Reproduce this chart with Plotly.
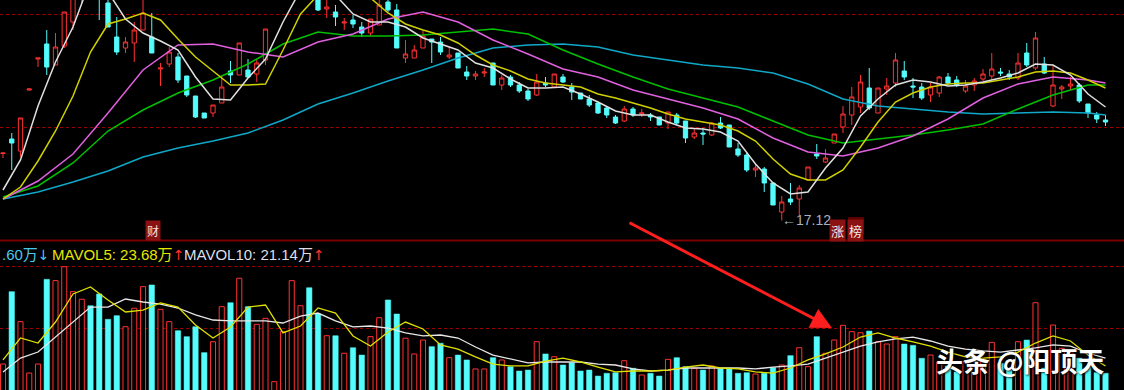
import plotly.graph_objects as go

# ---------------- data ----------------
idx = list(range(127))

open_ = [19.80, 20.38, 19.90, 22.34, 23.58, 24.18, 23.34, 24.10, 25.06, 26.14,
         26.94, 26.74, 25.82, 24.46, 24.02, 24.22, 24.74, 24.46, 23.18, 23.38,
         23.66, 22.90, 22.10, 21.42, 21.42, 21.82, 23.10, 22.94, 23.14, 22.98,
         23.54, 26.02, 26.26, 27.54, 28.14, 28.34, 26.06, 25.58, 25.46, 25.02,
         25.14, 24.86, 24.62, 24.94, 25.86, 25.54, 23.62, 23.62, 24.02, 24.38,
         24.26, 23.66, 23.82, 23.06, 22.90, 23.02, 23.42, 22.54, 22.86, 22.54,
         22.30, 22.14, 22.62, 22.46, 22.86, 22.46, 22.22, 21.98, 21.82, 21.62,
         21.26, 21.10, 21.58, 21.38, 21.34, 21.26, 21.02, 21.34, 21.10, 20.46,
         20.62, 20.54, 21.02, 20.94, 19.98, 19.74, 19.14, 19.18, 18.62, 17.46,
         17.98, 17.98, 18.74, 19.78, 19.46, 20.22, 20.86, 21.34, 21.66, 22.42,
         21.42, 22.38, 22.62, 23.10, 22.50, 22.46, 22.14, 22.22, 22.86, 22.74,
         22.30, 22.54, 22.78, 22.90, 23.06, 22.98, 22.82, 23.82, 23.22, 23.38,
         21.70, 22.38, 22.50, 22.54, 21.78, 21.34, 21.14]

high = [19.82, 20.62, 21.22, 22.40, 23.62, 24.74, 24.62, 25.46, 26.26, 27.14,
        27.54, 27.34, 26.14, 25.26, 24.46, 25.06, 26.06, 25.42, 23.42, 24.06,
        23.82, 22.90, 22.10, 21.42, 21.74, 22.90, 23.50, 24.22, 23.58, 23.58,
        24.78, 26.26, 27.94, 28.74, 28.94, 28.74, 26.34, 25.94, 25.74, 25.22,
        25.34, 25.06, 25.18, 25.94, 26.06, 25.78, 24.34, 24.14, 24.70, 24.38,
        24.46, 24.06, 23.82, 23.30, 23.10, 23.22, 23.42, 22.94, 22.94, 22.66,
        22.38, 22.98, 22.86, 22.98, 22.98, 22.62, 22.22, 22.14, 21.82, 21.66,
        21.34, 21.70, 21.66, 21.58, 21.42, 21.26, 21.46, 21.42, 21.10, 20.82,
        20.82, 21.06, 21.26, 20.94, 20.22, 19.82, 19.42, 19.26, 18.62, 18.10,
        18.62, 18.54, 19.26, 20.18, 19.98, 20.58, 21.70, 22.46, 22.94, 23.22,
        22.42, 22.82, 23.82, 23.50, 22.82, 22.62, 22.62, 22.90, 23.02, 22.90,
        22.74, 22.82, 23.18, 23.82, 23.22, 23.14, 23.82, 24.22, 24.66, 23.66,
        23.34, 22.54, 22.86, 22.62, 21.78, 21.46, 21.34]

low = [19.62, 19.14, 19.66, 22.32, 23.26, 22.94, 23.34, 24.02, 24.74, 25.82,
       26.26, 25.14, 24.86, 23.74, 23.82, 23.46, 24.74, 23.82, 22.50, 23.26,
       22.62, 22.06, 21.22, 21.22, 21.26, 21.82, 22.62, 22.94, 22.82, 22.66,
       23.34, 25.98, 26.18, 27.14, 27.54, 26.26, 25.50, 25.22, 24.90, 24.74,
       24.82, 24.46, 24.50, 24.94, 25.46, 24.02, 23.42, 23.62, 24.02, 23.42,
       23.74, 23.58, 23.22, 22.74, 22.74, 22.86, 22.54, 22.34, 22.46, 22.22,
       21.90, 22.10, 22.46, 22.46, 22.62, 21.94, 21.98, 21.66, 21.38, 21.22,
       20.98, 21.06, 21.26, 21.26, 21.10, 20.94, 20.78, 20.94, 20.22, 20.38,
       20.14, 20.50, 20.78, 20.06, 19.66, 19.06, 18.86, 18.26, 17.74, 17.12,
       17.74, 17.34, 18.74, 19.58, 19.42, 20.22, 20.62, 20.94, 21.42, 21.54,
       21.42, 22.14, 22.46, 22.74, 22.02, 21.94, 21.86, 22.06, 22.54, 22.46,
       22.22, 22.30, 22.70, 22.74, 22.90, 22.74, 22.74, 23.26, 23.14, 22.98,
       21.66, 21.98, 22.34, 21.82, 21.22, 21.02, 20.90]

close = [19.82, 20.22, 21.22, 22.38, 23.62, 23.26, 24.06, 25.46, 26.14, 26.82,
         26.42, 26.06, 24.86, 23.86, 24.26, 24.74, 25.42, 23.82, 23.22, 23.86,
         22.74, 22.14, 21.26, 21.22, 21.74, 22.46, 22.94, 24.22, 22.86, 23.42,
         24.78, 26.14, 27.74, 28.34, 28.54, 26.34, 25.54, 25.66, 25.26, 25.06,
         24.98, 24.62, 25.18, 25.74, 25.54, 24.02, 23.78, 23.94, 24.50, 24.26,
         23.86, 23.74, 23.22, 22.90, 22.98, 23.06, 22.54, 22.82, 22.54, 22.30,
         21.98, 22.66, 22.54, 22.98, 22.66, 22.26, 21.98, 21.74, 21.42, 21.34,
         21.02, 21.58, 21.34, 21.42, 21.26, 20.94, 21.46, 21.02, 20.42, 20.62,
         20.58, 21.02, 20.82, 20.06, 19.74, 19.14, 19.22, 18.62, 17.74, 17.86,
         17.86, 18.42, 19.26, 19.70, 19.62, 20.58, 21.38, 22.06, 22.66, 21.62,
         22.42, 22.50, 23.54, 22.86, 22.46, 22.02, 22.46, 22.86, 22.62, 22.54,
         22.50, 22.70, 22.98, 23.18, 23.02, 22.86, 23.42, 23.34, 24.42, 23.02,
         22.54, 22.46, 22.58, 21.90, 21.42, 21.18, 21.06]

# volume, in 万 shares
volume = [23.3, 83.6, 58.6, 15.8, 23.3, 93.9, 92.8, 104.4, 83.6, 77.3,
          71.9, 81.7, 60.6, 63.6, 54.4, 69.8, 87.8, 89.2, 68.9, 58.6,
          51.1, 46.1, 54.4, 32.8, 41.9, 71.1, 74.4, 94.8, 71.1, 56.4,
          61.4, 8.6, 50.3, 92.8, 71.9, 86.9, 65.0, 46.9, 46.9, 32.3,
          36.9, 30.8, 46.1, 61.9, 76.7, 65.0, 44.8, 31.7, 43.3, 37.8,
          40.6, 28.6, 30.8, 26.7, 19.2, 19.2, 28.6, 26.7, 21.1, 17.5,
          18.3, 41.9, 31.7, 29.4, 22.5, 24.4, 17.5, 18.3, 13.3, 15.6,
          16.1, 26.1, 19.8, 14.2, 15.6, 13.3, 27.2, 28.6, 21.1, 19.8,
          18.3, 21.7, 19.8, 19.8, 15.6, 16.1, 15.0, 15.6, 20.3, 22.5,
          30.3, 36.9, 21.1, 46.1, 32.3, 43.3, 55.6, 50.3, 49.4, 50.8,
          41.9, 40.0, 46.1, 40.0, 38.9, 28.1, 30.8, 25.0, 21.7, 16.7,
          25.3, 21.1, 26.7, 41.4, 23.9, 18.3, 41.9, 43.3, 74.4, 19.8,
          55.8, 36.4, 33.6, 28.1, 20.6, 16.1, 15.6]

# moving averages
ma_idx2 = list(range(0, 127, 2))            # every 2nd session
ma_idx4 = list(range(0, 125, 4)) + [126]    # every 4th session

ma5 = [18.34, 19.54, 21.70, 23.46, 24.86, 26.74, 26.26, 25.18, 24.62, 24.30,
       23.94, 22.86, 21.98, 21.94, 22.82, 23.58, 25.06, 26.34, 27.14, 26.14,
       25.38, 25.06, 25.06, 24.86, 24.42, 24.18, 23.94, 23.42, 23.22, 22.78,
       22.42, 22.42, 22.46, 22.18, 21.86, 21.50, 21.34, 21.34, 21.06, 20.82,
       20.78, 20.66, 20.30, 19.38, 18.62, 18.18, 18.26, 19.22, 20.02, 21.30,
       21.98, 22.54, 22.74, 22.66, 22.50, 22.54, 22.66, 22.82, 23.02, 23.38,
       23.34, 22.94, 22.18, 21.66]

ma10 = [17.98, 18.46, 19.50, 20.70, 22.10, 23.86, 24.98, 25.18, 25.42, 25.14,
        24.38, 23.66, 23.10, 22.54, 22.54, 22.58, 23.94, 25.38, 26.14, 26.54,
        26.42, 26.02, 25.42, 24.98, 24.74, 24.54, 24.22, 23.74, 23.34, 23.10,
        22.78, 22.62, 22.54, 22.46, 22.18, 22.02, 21.82, 21.62, 21.38, 21.18,
        21.06, 20.94, 20.70, 20.30, 19.58, 18.98, 18.74, 18.74, 19.14, 20.06,
        21.06, 21.86, 22.22, 22.46, 22.58, 22.62, 22.62, 22.74, 22.86, 23.06,
        23.10, 23.02, 22.74, 22.42]

ma20 = [17.98, 18.70, 19.78, 21.42, 23.14, 24.14, 24.18, 23.86, 23.66, 24.26,
        24.58, 25.18, 25.46, 25.06, 24.34, 23.78, 23.18, 22.86, 22.34, 21.98,
        21.62, 21.18, 20.42, 19.86, 19.70, 20.02, 20.50, 21.18, 22.02, 22.58,
        22.86, 22.74, 22.62]

ma30 = [18.06, 18.50, 19.42, 20.70, 21.54, 22.22, 22.74, 23.38, 24.18, 24.66,
        24.50, 24.50, 24.54, 24.66, 24.78, 24.58, 23.94, 23.38, 22.86, 22.38,
        22.02, 21.66, 21.10, 20.54, 20.22, 20.38, 20.54, 20.74, 20.98, 21.58,
        22.14, 22.54, 22.54]

ma60 = [17.98, 18.26, 18.66, 19.10, 19.66, 20.02, 20.30, 20.62, 21.14, 21.78,
        22.22, 22.70, 23.14, 23.62, 24.02, 24.14, 24.18, 24.06, 23.74, 23.54,
        23.34, 23.22, 23.02, 22.58, 21.98, 21.70, 21.58, 21.46, 21.38, 21.42,
        21.46, 21.42, 21.34]

mavol5 = [26.7, 45.0, 40.8, 58.3, 81.7, 87.5, 76.7, 66.7, 68.3, 74.2,
          70.8, 55.8, 45.0, 54.2, 70.8, 72.5, 49.2, 55.0, 70.0, 65.8,
          46.7, 38.3, 50.0, 58.3, 52.5, 39.2, 35.8, 29.2, 23.3, 21.7,
          21.7, 25.8, 28.3, 25.0, 20.8, 16.7, 17.5, 17.5, 18.3, 20.8,
          22.5, 20.0, 19.2, 16.7, 15.8, 20.0, 26.7, 31.7, 37.5, 45.8,
          49.2, 45.0, 41.7, 38.3, 33.3, 29.2, 28.3, 29.2, 33.3, 40.8,
          46.7, 42.5, 30.8, 21.7]

mavol10 = [16.7, 28.3, 33.3, 45.8, 58.3, 70.8, 70.8, 77.5, 75.0, 73.3,
           70.0, 64.2, 60.0, 59.2, 59.2, 59.2, 57.5, 63.3, 65.8, 59.2,
           54.2, 55.0, 53.3, 49.2, 46.7, 47.5, 45.0, 37.5, 30.8, 27.5,
           24.2, 25.0, 25.0, 25.0, 23.3, 22.5, 19.2, 17.5, 18.3, 20.0,
           20.0, 20.0, 20.0, 19.2, 20.8, 21.7, 23.3, 28.3, 33.3, 38.3,
           41.7, 44.2, 45.8, 42.5, 38.3, 35.8, 34.2, 33.3, 35.0, 36.7,
           39.2, 38.3, 32.5, 28.3]

low_label = "17.12"
vol_text = ".60万"
mavol5_text = "MAVOL5: 23.68万"
mavol10_text = "MAVOL10: 21.14万"

# ---------------- styling ----------------
W, H = 1124, 390
RED = "#ff3232"
CYAN = "#54fcfc"
GRID = "#9a0000"
BG = "#000000"

def px(xp):
    return xp / W

def py(yp):
    return 1 - yp / H

fig = go.Figure()

fig.add_trace(go.Candlestick(
    x=idx, open=open_, high=high, low=low, close=close,
    increasing=dict(line=dict(color=RED, width=1), fillcolor=BG),
    decreasing=dict(line=dict(color=CYAN, width=1), fillcolor=CYAN),
    whiskerwidth=0, hoverinfo="skip", xaxis="x", yaxis="y", name="K"))

for vals, xs, col in [(ma60, ma_idx4, "#0fa8c8"), (ma30, ma_idx4, "#00c000"),
                      (ma20, ma_idx4, "#e060e0"), (ma10, ma_idx2, "#d0d000"),
                      (ma5, ma_idx2, "#e0e0e0")]:
    fig.add_trace(go.Scatter(x=xs, y=vals, mode="lines",
                             line=dict(color=col, width=1.5),
                             hoverinfo="skip", xaxis="x", yaxis="y"))

up = []
for i in idx:
    if close[i] > open_[i]:
        up.append(True)
    elif close[i] < open_[i]:
        up.append(False)
    else:
        up.append(close[i] >= (close[i - 1] if i > 0 else close[i]))

rx = [i for i in idx if up[i]]
rv = [volume[i] for i in idx if up[i]]
cx = [i for i in idx if not up[i]]
cv = [volume[i] for i in idx if not up[i]]

fig.add_trace(go.Bar(x=rx, y=rv, width=0.58,
                     marker=dict(color=BG, line=dict(color=RED, width=1)),
                     hoverinfo="skip", xaxis="x", yaxis="y2"))
fig.add_trace(go.Bar(x=cx, y=cv, width=0.62,
                     marker=dict(color=CYAN, line=dict(color=CYAN, width=0.5)),
                     hoverinfo="skip", xaxis="x", yaxis="y2"))

fig.add_trace(go.Scatter(x=ma_idx2, y=mavol10, mode="lines",
                         line=dict(color="#e8e8e8", width=1.3),
                         hoverinfo="skip", xaxis="x", yaxis="y2"))
fig.add_trace(go.Scatter(x=ma_idx2, y=mavol5, mode="lines",
                         line=dict(color="#e0e000", width=1.3),
                         hoverinfo="skip", xaxis="x", yaxis="y2"))

x0 = -3 / 8.75
x1 = (W - 3) / 8.75

fig.update_layout(
    width=W, height=H, margin=dict(l=0, r=0, t=0, b=0),
    paper_bgcolor=BG, plot_bgcolor=BG, showlegend=False,
    barmode="overlay", boxgap=0.3,
    xaxis=dict(range=[x0, x1], showgrid=False, zeroline=False,
               showticklabels=False, showline=False, ticks="",
               rangeslider=dict(visible=False), fixedrange=True),
    yaxis=dict(domain=[1 - 240 / H, 1], range=[16.34, 25.94],
               tickvals=[20.86, 25.38], showgrid=True, gridcolor=GRID,
               griddash="dot", gridwidth=1, showticklabels=False,
               zeroline=False, showline=False, ticks="", fixedrange=True),
    yaxis2=dict(domain=[0, 148 / H], range=[1.667, 125], anchor="x",
                tickvals=[53.3, 104.2], showgrid=True, gridcolor=GRID,
                griddash="dot", gridwidth=1, showticklabels=False,
                zeroline=False, showline=False, ticks="", fixedrange=True),
)

shapes = [
    dict(type="line", xref="paper", yref="paper", x0=0, x1=1,
         y0=py(240.5), y1=py(240.5), line=dict(color="#7a0000", width=2)),
    # shadow square behind the 榜 tag
    dict(type="rect", xref="paper", yref="paper", x0=px(848), x1=px(864),
         y0=py(234), y1=py(217), fillcolor="#5a0000", line=dict(width=0)),
]
fig.update_layout(shapes=shapes)

CJK = "Noto Sans CJK SC"
LAT = "Liberation Sans, Arial, Noto Sans CJK SC"
ARR = "font-family:'DejaVu Sans';font-size:14px"
ann = []
# 财 tag
ann.append(dict(xref="paper", yref="paper", x=px(153), y=py(230), text="财",
                showarrow=False, font=dict(family=CJK, size=12, color="#f0e0e0"),
                bgcolor="#8a1212", borderpad=1, xanchor="center", yanchor="middle"))
# 涨 榜 tags
ann.append(dict(xref="paper", yref="paper", x=px(837.5), y=py(230.5), text="涨",
                showarrow=False, font=dict(family=CJK, size=13, color="#f4e8e8"),
                bgcolor="#8a1212", borderpad=1, xanchor="center", yanchor="middle"))
ann.append(dict(xref="paper", yref="paper", x=px(855), y=py(230.5), text="榜",
                showarrow=False, font=dict(family=CJK, size=13, color="#f4e8e8"),
                bgcolor="#8a1212", borderpad=1, xanchor="center", yanchor="middle"))
# low price label
ann.append(dict(xref="paper", yref="paper", x=px(780), y=py(220), text="←" + low_label,
                showarrow=False, font=dict(family=LAT, size=14, color="#a8b0c0"),
                xanchor="left", yanchor="middle"))
# big red arrow
ann.append(dict(xref="paper", yref="paper", x=px(832), y=py(328), text="",
                showarrow=True, axref="pixel", ayref="pixel", ax=628 - 832, ay=222 - 328,
                arrowhead=2, arrowsize=1.4, arrowwidth=3, arrowcolor="#ff1e1e"))
# volume legend row
ann.append(dict(xref="paper", yref="paper", x=px(0), y=py(254),
                text=vol_text + '<span style="color:#4cc8ec;' + ARR + '">↓</span>',
                showarrow=False, font=dict(family=LAT, size=15, color="#4cc8ec"),
                xanchor="left", yanchor="middle"))
ann.append(dict(xref="paper", yref="paper", x=px(50), y=py(254),
                text=mavol5_text + '<span style="color:#ff3030;' + ARR + '">↑</span>',
                showarrow=False, font=dict(family=LAT, size=15, color="#e6e600"),
                xanchor="left", yanchor="middle"))
ann.append(dict(xref="paper", yref="paper", x=px(182), y=py(254),
                text=mavol10_text + '<span style="color:#ff3030;' + ARR + '">↑</span>',
                showarrow=False, font=dict(family=LAT, size=15, color="#dcdfe8"),
                xanchor="left", yanchor="middle"))
# watermark
ann.append(dict(xref="paper", yref="paper", x=px(1020), y=py(360), text="头条 @阳顶天",
                showarrow=False,
                font=dict(family=CJK, size=27, color="#ffffff", weight="bold",
                          shadow="1px 1px 2px rgba(0,0,0,0.8)"),
                xanchor="center", yanchor="middle"))
fig.update_layout(annotations=ann)

fig.write_html("out.html")
